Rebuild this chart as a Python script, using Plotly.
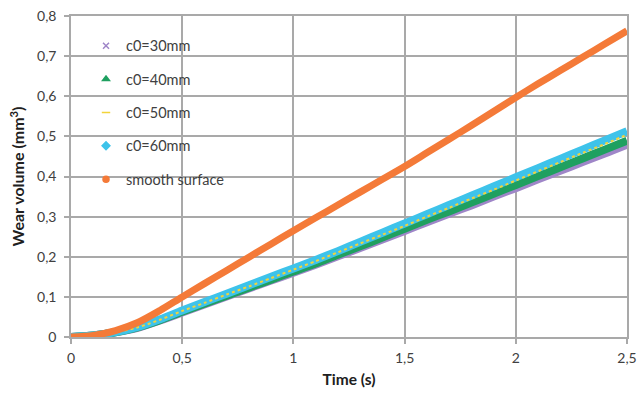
import plotly.graph_objects as go

time_s = [0.0, 0.1, 0.2, 0.3, 0.4, 0.5, 0.6, 0.7, 0.8, 0.9, 1.0, 1.1, 1.2, 1.3,
          1.4, 1.5, 1.6, 1.7, 1.8, 1.9, 2.0, 2.1, 2.2, 2.3, 2.4, 2.5]

c0_30 = [0, 0.004, 0.012, 0.023, 0.041, 0.061, 0.081, 0.101, 0.121, 0.141, 0.160, 0.180, 0.201,
         0.222, 0.243, 0.264, 0.286, 0.307, 0.328, 0.350, 0.371, 0.393, 0.414, 0.436, 0.457, 0.479]
c0_40 = [0, 0.004, 0.012, 0.024, 0.042, 0.063, 0.083, 0.103, 0.123, 0.143, 0.163, 0.183, 0.205,
         0.226, 0.248, 0.270, 0.292, 0.313, 0.335, 0.357, 0.379, 0.401, 0.423, 0.445, 0.467, 0.489]
c0_50 = [0, 0.004, 0.012, 0.024, 0.043, 0.065, 0.085, 0.106, 0.126, 0.147, 0.168, 0.189, 0.211,
         0.233, 0.255, 0.277, 0.300, 0.322, 0.345, 0.367, 0.390, 0.413, 0.436, 0.459, 0.481, 0.504]
c0_60 = [0, 0.004, 0.012, 0.025, 0.044, 0.066, 0.087, 0.108, 0.129, 0.150, 0.171, 0.192, 0.214,
         0.237, 0.260, 0.283, 0.306, 0.329, 0.352, 0.375, 0.398, 0.421, 0.444, 0.467, 0.490, 0.513]
smooth = [0, 0.004, 0.016, 0.036, 0.066, 0.100, 0.133, 0.166, 0.199, 0.232, 0.265, 0.297, 0.329,
          0.361, 0.393, 0.425, 0.459, 0.493, 0.527, 0.562, 0.597, 0.631, 0.664, 0.697, 0.730, 0.763]

x_ticks = [0, 0.5, 1, 1.5, 2, 2.5]
x_tick_labels = ["0", "0,5", "1", "1,5", "2", "2,5"]
y_ticks = [0, 0.1, 0.2, 0.3, 0.4, 0.5, 0.6, 0.7, 0.8]
y_tick_labels = ["0", "0,1", "0,2", "0,3", "0,4", "0,5", "0,6", "0,7", "0,8"]

series = [
    ("c0=30mm", c0_30, "#9f86c8", "x-thin-open", 6, 8, "solid"),
    ("c0=40mm", c0_40, "#1fa060", "triangle-up", 6, 8, "solid"),
    ("c0=60mm", c0_60, "#3ec3ea", "diamond", 6, 8, "solid"),
    ("c0=50mm", c0_50, "#f2d43a", "line-ew-open", 6, 2, "dot"),
    ("smooth surface", smooth, "#f47a38", "circle", 6, 7, "solid"),
]
legend_order = ["c0=30mm", "c0=40mm", "c0=50mm", "c0=60mm", "smooth surface"]

fig = go.Figure()
for name, vals, color, sym, msize, lw, dash in series:
    fig.add_trace(go.Scatter(x=time_s, y=vals, mode="lines", name=name,
                             line=dict(color=color, width=lw, dash=dash, shape="spline", smoothing=0.8),
                             showlegend=False, hoverinfo="skip"))
info = {s[0]: s for s in series}
for rank, name in enumerate(legend_order):
    _, _, color, sym, msize, _, _ = info[name]
    fig.add_trace(go.Scatter(x=[None], y=[None], mode="markers", name=name,
                             legendgroup=name, legendrank=rank,
                             marker=dict(color=color, symbol=sym, size=msize,
                                         line=dict(color=color, width=1.5))))

axis_common = dict(showgrid=True, gridcolor="#a9a9a9", gridwidth=1.5,
                   showline=True, linecolor="#a9a9a9", linewidth=1.5, mirror=True,
                   ticks="outside", ticklen=5, tickcolor="#a9a9a9", tickwidth=1.5,
                   zeroline=False, automargin=False,
                   tickfont=dict(size=14, color="#404040"))

fig.update_layout(
    width=643, height=394,
    margin=dict(l=71, r=16, t=16, b=57),
    paper_bgcolor="white", plot_bgcolor="white",
    font=dict(family="Lato, Open Sans, sans-serif", color="#404040"),
    legend=dict(x=0.027, y=0.957, xanchor="left", yanchor="top",
                bgcolor="rgba(0,0,0,0)", font=dict(size=14.5, color="#404040"),
                tracegroupgap=11.5, itemwidth=30),
    xaxis=dict(range=[0, 2.5], tickvals=x_ticks, ticktext=x_tick_labels,
               ticklabelstandoff=2,
               title=dict(text="<b>Time (s)</b>", font=dict(size=15.5, color="#202020"), standoff=10),
               **axis_common),
    yaxis=dict(range=[0, 0.8], tickvals=y_ticks, ticktext=y_tick_labels,
               ticklabelstandoff=5,
               title=dict(text="<b>Wear volume (mm<sup>3</sup>)</b>", font=dict(size=16, color="#202020"), standoff=8),
               **axis_common),
)

fig.write_html("out.html")
